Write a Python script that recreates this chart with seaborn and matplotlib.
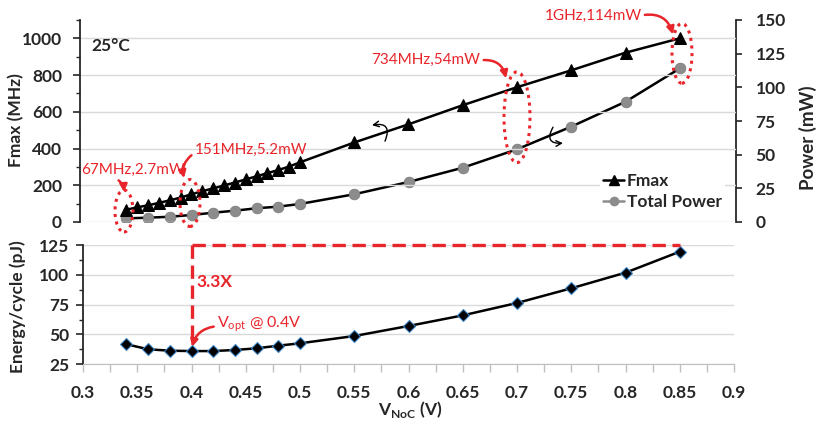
import numpy as np
import pandas as pd
import matplotlib
matplotlib.use('Agg')
import matplotlib.pyplot as plt
import seaborn as sns
from matplotlib.patches import Ellipse
from matplotlib.lines import Line2D
from matplotlib.ticker import MultipleLocator

# ---------------- data ----------------
fmax_v = [0.34, 0.35, 0.36, 0.37, 0.38, 0.39, 0.40, 0.41, 0.42, 0.43, 0.44, 0.45,
          0.46, 0.47, 0.48, 0.49, 0.50, 0.55, 0.60, 0.65, 0.70, 0.75, 0.80, 0.85]
fmax_mhz = [67, 80, 91, 104, 118, 133, 151, 168, 183, 199, 215, 232,
            249, 266, 283, 302, 325, 433, 532, 636, 734, 826, 922, 1000]

pe_v = [0.34, 0.36, 0.38, 0.40, 0.42, 0.44, 0.46, 0.48, 0.50,
        0.55, 0.60, 0.65, 0.70, 0.75, 0.80, 0.85]
power_mw = [2.7, 3.2, 3.9, 5.2, 6.9, 8.4, 10.2, 11.4, 13.4,
            20.6, 29.7, 40.3, 54, 70.8, 89.3, 114]
energy_pj = [41.8, 37.6, 36.4, 36.1, 36.1, 37.0, 38.4, 40.6, 42.6,
             48.7, 57.1, 66.0, 76.4, 88.7, 101.8, 119.4]

fmax_ticks = [0, 200, 400, 600, 800, 1000]
power_ticks = [0, 25, 50, 75, 100, 125, 150]
energy_ticks = [25, 50, 75, 100, 125]
v_ticks = [0.3, 0.35, 0.4, 0.45, 0.5, 0.55, 0.6, 0.65, 0.7, 0.75, 0.8, 0.85, 0.9]

df_f = pd.DataFrame({'V': fmax_v, 'Fmax': fmax_mhz})
df_p = pd.DataFrame({'V': pe_v, 'Power': power_mw, 'Energy': energy_pj})

# ---------------- style ----------------
sns.set_style('ticks')
plt.rcParams['font.family'] = ['Lato', 'DejaVu Sans']
plt.rcParams['font.weight'] = 'bold'
plt.rcParams['axes.labelweight'] = 'bold'

RED = '#e8252b'
GRID = '#d9d9d9'
W, H = 821, 430

fig = plt.figure(figsize=(8.21, 4.30), dpi=100)

def px2fig(x0, y0, x1, y1):
    return [x0 / W, 1 - y1 / H, (x1 - x0) / W, (y1 - y0) / H]

ax1 = fig.add_axes(px2fig(80, 20, 736, 222))
ax2 = ax1.twinx()
ax3 = fig.add_axes(px2fig(83, 245, 734, 364.3))

# ---------------- top panel ----------------
sns.lineplot(data=df_f, x='V', y='Fmax', ax=ax1, color='black', lw=1.8,
             marker='^', markersize=9, markeredgecolor='black', zorder=5)
sns.lineplot(data=df_p, x='V', y='Power', ax=ax2, color='black', lw=1.8, zorder=4)
sns.scatterplot(data=df_p, x='V', y='Power', ax=ax2, color='#8c8c8c', s=60,
                edgecolor='#7a7a7a', linewidth=0.5, zorder=5)

ax1.set_xlim(0.3 - 3 / 1085, 0.9 + 2 / 1085)
ax1.set_ylim(0, 1100)
ax2.set_ylim(0, 150)
ax1.set_yticks(fmax_ticks)
ax1.yaxis.set_minor_locator(MultipleLocator(100))
ax2.set_yticks(power_ticks)
ax1.set_xticks([])
ax1.set_xlabel('')
ax2.set_xlabel('')
ax1.set_ylabel('')
ax2.set_ylabel('')
for a in (ax1, ax2):
    a.spines['top'].set_visible(False)
    a.spines['bottom'].set_visible(False)
ax1.spines['right'].set_visible(False)
ax2.spines['left'].set_visible(False)
ax1.spines['left'].set_linewidth(1.3)
ax2.spines['right'].set_linewidth(1.3)
ax1.tick_params(axis='y', which='major', length=5, width=1.2, labelsize=12.5, pad=8)
ax1.tick_params(axis='y', which='minor', length=3, width=1.0)
ax2.tick_params(axis='y', which='major', length=4, width=1.2, labelsize=12.5, pad=10)
ax2.tick_params(axis='x', bottom=False, labelbottom=False)
ax1.yaxis.grid(True, color=GRID, lw=1)
ax1.set_axisbelow(True)
ax1.set_zorder(2)
ax1.patch.set_visible(False)
ax2.set_zorder(1)

ax1.text(0.308, 957, '25°C', fontsize=12.5, fontweight='bold', va='center', ha='left')

# annotations (red) on top panel
def mhz(ypx):
    return (222 - ypx) / 0.184

def vx(xpx):
    return 0.3 + (xpx - 83) / 1085

ann_kw = dict(color=RED, fontsize=11, fontweight='normal', annotation_clip=False)
arrow = dict(arrowstyle='-|>', color=RED, lw=1.8, mutation_scale=11)

ax1.annotate('67MHz,2.7mW', xy=(vx(124), mhz(192)), xytext=(vx(81), mhz(170)),
             ha='left', va='center',
             arrowprops=dict(**arrow, connectionstyle='arc3,rad=-0.35',
                             shrinkA=0, shrinkB=0,
                             relpos=(0.3, 0.0)), **ann_kw)
ax1.annotate('151MHz,5.2mW', xy=(vx(184), mhz(178)), xytext=(vx(251), mhz(150)),
             ha='center', va='center',
             arrowprops=dict(**arrow, connectionstyle='arc3,rad=0.35',
                             shrinkA=0, shrinkB=0, relpos=(0.0, 0.3)), **ann_kw)
ax1.annotate('734MHz,54mW', xy=(vx(506), mhz(78)), xytext=(vx(426), mhz(60)),
             ha='center', va='center',
             arrowprops=dict(**arrow, connectionstyle='arc3,rad=-0.45',
                             shrinkA=0, shrinkB=0, relpos=(1.0, 0.5)), **ann_kw)
ax1.annotate('1GHz,114mW', xy=(vx(673), mhz(34)), xytext=(vx(593), mhz(15)),
             ha='center', va='center',
             arrowprops=dict(**arrow, connectionstyle='arc3,rad=-0.45',
                             shrinkA=0, shrinkB=0, relpos=(1.0, 0.5)), **ann_kw)

ellipses = [(124, 211, 18, 42), (190, 203, 20, 47), (517, 117, 26, 91), (682, 53, 20, 60)]
for cx, cy, w, h in ellipses:
    ax1.add_patch(Ellipse((vx(cx), mhz(cy)), w / 1085, h / 0.184, fill=False,
                          edgecolor=RED, linestyle=(0, (1, 1.5)), lw=2.2,
                          clip_on=False, zorder=6))

# small axis-indicator arrows
ax1.annotate('', xy=(vx(372), mhz(125)), xytext=(vx(385), mhz(141)),
             arrowprops=dict(arrowstyle='->', color='black', lw=1.0,
                             connectionstyle='arc3,rad=0.9', shrinkA=0, shrinkB=0))
ax1.annotate('', xy=(vx(563), mhz(143)), xytext=(vx(553), mhz(127)),
             arrowprops=dict(arrowstyle='->', color='black', lw=1.0,
                             connectionstyle='arc3,rad=0.9', shrinkA=0, shrinkB=0))

# legend
handles = [Line2D([], [], color='black', marker='^', markersize=7, lw=1.8),
           Line2D([], [], color='#8c8c8c', marker='o', markersize=6, lw=1.8)]
leg = ax1.legend(handles, ['Fmax', 'Total Power'], loc='upper left',
                 bbox_to_anchor=(600 / W, 1 - 170 / H), bbox_transform=fig.transFigure,
                 frameon=True, fontsize=12.5, handlelength=1.2, handletextpad=0.15,
                 labelspacing=0.25, borderpad=0.2, borderaxespad=0)
leg.get_frame().set_facecolor('white')
leg.get_frame().set_edgecolor('none')
leg.get_frame().set_alpha(1)
for t in leg.get_texts():
    t.set_fontweight('bold')

# ---------------- bottom panel ----------------
sns.lineplot(data=df_p, x='V', y='Energy', ax=ax3, color='black', lw=1.8,
             marker='D', markersize=6, markeredgecolor='#3d85c6',
             markeredgewidth=0.8, zorder=5)
ax3.set_xlim(0.3, 0.9)
ax3.set_ylim(25, 125)
ax3.set_xticks(v_ticks)
ax3.set_xticklabels([f'{v:g}' for v in v_ticks])
ax3.set_yticks(energy_ticks)
ax3.xaxis.set_minor_locator(MultipleLocator(0.025))
ax3.yaxis.set_minor_locator(MultipleLocator(12.5))
ax3.set_xlabel('')
ax3.set_ylabel('')
ax3.spines['top'].set_visible(False)
ax3.spines['right'].set_visible(False)
ax3.spines['left'].set_linewidth(1.3)
ax3.spines['bottom'].set_color('#bfbfbf')
ax3.tick_params(axis='y', which='major', length=5, width=1.2, labelsize=12.5, pad=5)
ax3.tick_params(axis='y', which='minor', length=3, width=1.0)
ax3.tick_params(axis='x', which='major', length=6, width=1.0, color='#bfbfbf',
                labelsize=12.5, pad=9)
ax3.tick_params(axis='x', which='minor', length=6, width=1.0, color='#bfbfbf')
ax3.yaxis.grid(True, color=GRID, lw=1)
ax3.set_axisbelow(True)

# red dashed guides
dash = dict(color=RED, lw=2.4, linestyle=(0, (4, 2)), clip_on=False, zorder=6)
ax3.plot([0.4, 0.85], [125.4, 125.4], **dash)
ax3.plot([0.4, 0.4], [125.4, 44], **dash)
ax3.text(0.405, 94, '3.3X', color=RED, fontsize=12.5, fontweight='bold',
         ha='left', va='center')
ax3.annotate(r'V$_{\mathregular{opt}}$ @ 0.4V',
             xy=(0.4005, 39.5), xytext=(0.4235, 58.6), color=RED, fontsize=11.5,
             fontweight='normal', ha='left', va='center',
             arrowprops=dict(arrowstyle='-|>', color=RED, lw=1.8, mutation_scale=11,
                             connectionstyle='arc3,rad=0.35', shrinkA=0, shrinkB=0,
                             relpos=(0.0, 0.4)))

# ---------------- axis labels ----------------
fig.text(16 / W, 1 - 120 / H, 'Fmax (MHz)', rotation=90, ha='center', va='center',
         fontsize=12.5, fontweight='bold')
fig.text(18 / W, 1 - 307 / H, 'Energy/cycle (pJ)', rotation=90, ha='center',
         va='center', fontsize=12.5, fontweight='bold')
fig.text(808 / W, 1 - 138 / H, 'Power (mW)', rotation=90, ha='center', va='center',
         fontsize=13.5, fontweight='bold')
fig.text(410 / W, 1 - 410 / H, r'V$_{\mathregular{NoC}}$ (V)', ha='center',
         va='center', fontsize=12.5, fontweight='bold')

fig.savefig('out.png', dpi=100)
